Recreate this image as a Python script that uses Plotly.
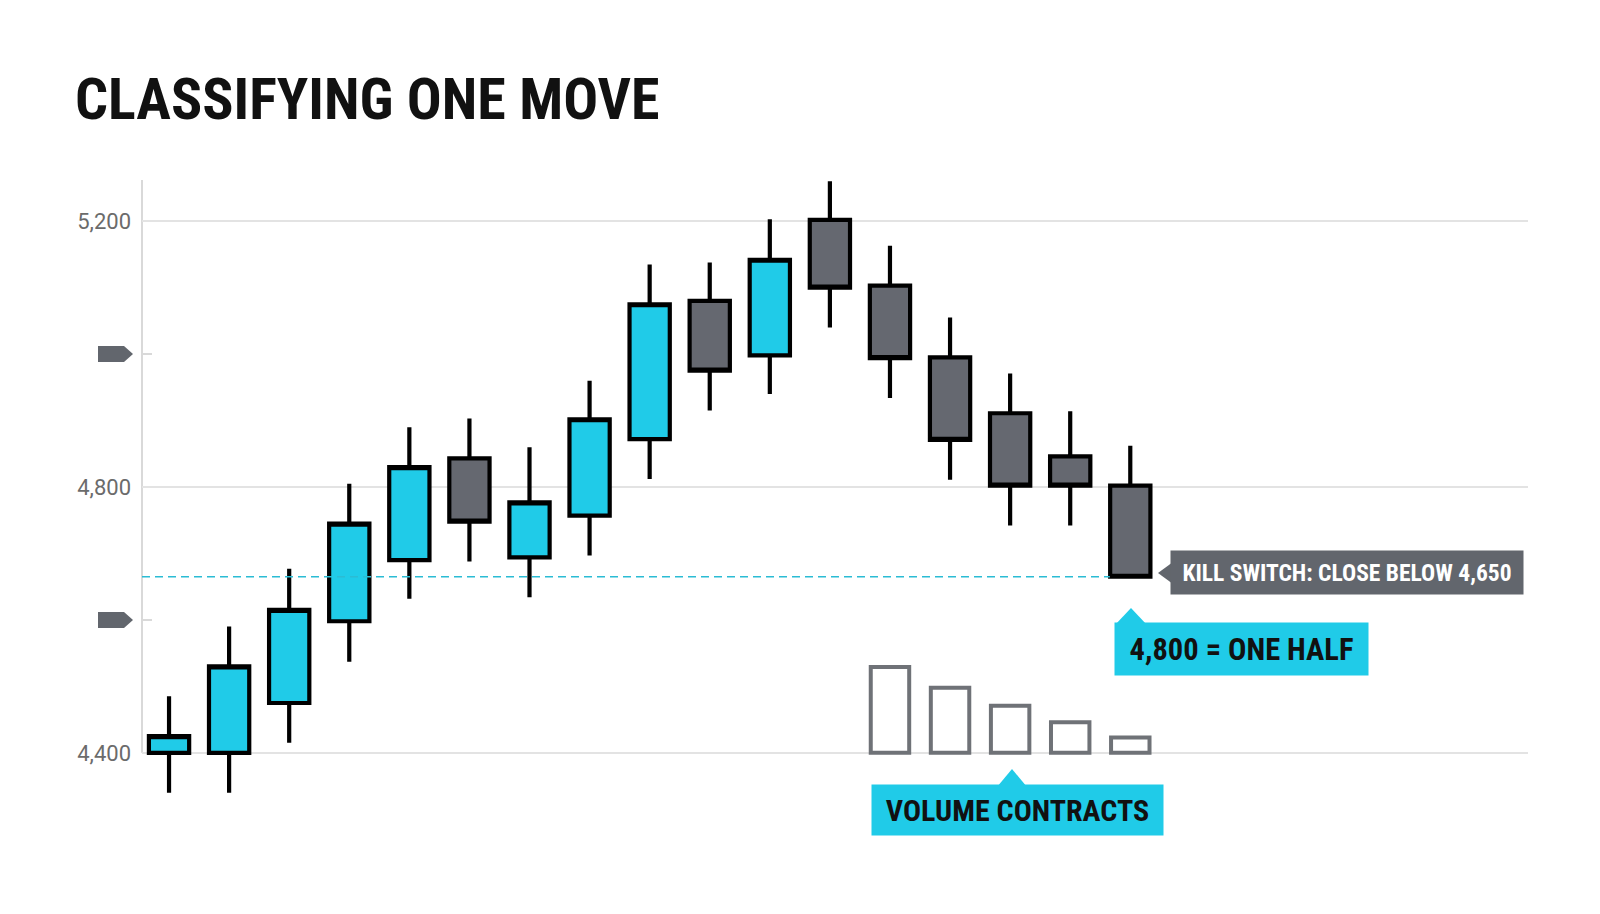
import plotly.graph_objects as go

# Candles (one per session)
SESSIONS = list(range(1, 18))
OPEN = [4400, 4400, 4475, 4598, 4690, 4843, 4694, 4757, 4872, 5080, 4998, 5202, 5103, 4995, 4911, 4846, 4802]
HIGH = [4485, 4590, 4677, 4805, 4890, 4903, 4860, 4960, 5135, 5138, 5203, 5260, 5163, 5055, 4971, 4914, 4862]
LOW = [4340, 4340, 4415, 4537, 4632, 4688, 4634, 4697, 4812, 4915, 4940, 5040, 4934, 4811, 4742, 4742, 4665]
CLOSE = [4425, 4530, 4615, 4745, 4830, 4748, 4777, 4902, 5075, 4975, 5142, 5100, 4994, 4871, 4802, 4802, 4665]

# Volume on the pullback sessions
VOL_SESSIONS = [13, 14, 15, 16, 17]
VOLUME = [12.9, 9.8, 7.1, 4.6, 2.3]

# Levels and labels
TICK_VALS = [4400, 4800, 5200]
TICK_TEXT = ["4,400", "4,800", "5,200"]
TAG_LEVELS = [4600, 5000]
KILL_LEVEL = 4665
TITLE = "CLASSIFYING ONE MOVE"
KILL_TEXT = "KILL SWITCH: CLOSE BELOW 4,650"
HALF_TEXT = "4,800 = ONE HALF"
VOL_TEXT = "VOLUME CONTRACTS"

CYAN = "#20cbe8"
GRAY = "#656870"
TAG_GRAY = "#62666d"
COND = "Roboto Condensed, Liberation Sans Narrow, DejaVu Sans Condensed, Roboto, sans-serif"

# page offset (body margin) and plot area in page pixels
OFF = 8
PLOT_L, PLOT_R, PLOT_T, PLOT_B = 142 - OFF, 1528 - OFF, 180 - OFF, 806 - OFF
Y_RANGE = [4320, 5262]
X_RANGE = [0.55, 23.62]
VOL_SCALE = 0.1  # volume units per price unit
Y2_RANGE = [(Y_RANGE[0] - 4400) * VOL_SCALE, (Y_RANGE[1] - 4400) * VOL_SCALE]


def px_x(p):
    return (p - OFF - PLOT_L) / (PLOT_R - PLOT_L)


def px_y(p):
    return (PLOT_B - (p - OFF)) / (PLOT_B - PLOT_T)


fig = go.Figure()

fig.add_trace(go.Bar(
    x=VOL_SESSIONS, y=VOLUME, yaxis="y2", width=0.64,
    marker=dict(color="rgba(255,255,255,0)", line=dict(color="#6f7277", width=4)),
    hoverinfo="skip",
))

fig.add_trace(go.Candlestick(
    x=SESSIONS, open=OPEN, high=HIGH, low=LOW, close=CLOSE,
    increasing=dict(fillcolor=CYAN, line=dict(color="black", width=4.2)),
    decreasing=dict(fillcolor=GRAY, line=dict(color="black", width=4.2)),
    whiskerwidth=0,
))

shapes = [
    # left axis line, stops at the 4,400 grid line
    dict(type="line", xref="paper", yref="y", x0=0, x1=0, y0=4400, y1=Y_RANGE[1],
         line=dict(color="#d9d9d9", width=2), layer="below"),
    # kill switch level
    dict(type="line", xref="x", yref="y", x0=X_RANGE[0], x1=SESSIONS[-1] - 0.34,
         y0=KILL_LEVEL, y1=KILL_LEVEL, line=dict(color="#2bbcd4", width=1.5, dash="8px,5px")),
]
for lvl in TAG_LEVELS:
    shapes.append(dict(type="path", xref="paper", yref="y", xsizemode="pixel", ysizemode="pixel",
                       xanchor=0, yanchor=lvl,
                       path="M -44,-8 L -18,-8 L -9,0 L -18,8 L -44,8 Z",
                       fillcolor=TAG_GRAY, line=dict(width=0)))
# callout pointers
shapes.append(dict(type="path", xref="paper", yref="paper", xsizemode="pixel", ysizemode="pixel",
                   xanchor=px_x(1172), yanchor=px_y(573), path="M 1,11 L -14,0 L 1,-11 Z",
                   fillcolor=TAG_GRAY, line=dict(width=0)))
shapes.append(dict(type="path", xref="paper", yref="paper", xsizemode="pixel", ysizemode="pixel",
                   xanchor=px_x(1115), yanchor=px_y(624), path="M 0,-1 L 16,16 L 32,-1 Z",
                   fillcolor=CYAN, line=dict(width=0)))
shapes.append(dict(type="path", xref="paper", yref="paper", xsizemode="pixel", ysizemode="pixel",
                   xanchor=px_x(997), yanchor=px_y(786), path="M 0,-1 L 15,17 L 30,-1 Z",
                   fillcolor=CYAN, line=dict(width=0)))

annotations = [
    dict(text="<b>" + KILL_TEXT + "</b>", xref="paper", yref="paper",
         x=px_x(1347), y=px_y(572.5), xanchor="center", yanchor="middle",
         width=352, height=43, borderpad=0, bgcolor=TAG_GRAY, showarrow=False,
         font=dict(family=COND, size=23.5, color="white")),
    dict(text="<b>" + HALF_TEXT + "</b>", xref="paper", yref="paper",
         x=px_x(1241.5), y=px_y(649), xanchor="center", yanchor="middle",
         width=253, height=52, borderpad=0, bgcolor=CYAN, showarrow=False,
         font=dict(family=COND, size=30.5, color="#111111")),
    dict(text="<b>" + VOL_TEXT + "</b>", xref="paper", yref="paper",
         x=px_x(1017.5), y=px_y(810), xanchor="center", yanchor="middle",
         width=291, height=50, borderpad=0, bgcolor=CYAN, showarrow=False,
         font=dict(family=COND, size=30, color="#111111")),
]

fig.update_layout(
    width=1600, height=914,
    margin=dict(l=PLOT_L, r=1600 - PLOT_R, t=PLOT_T, b=914 - PLOT_B),
    paper_bgcolor="white", plot_bgcolor="white",
    showlegend=False,
    boxgap=0.33, boxgroupgap=0,
    title=dict(text="<b>" + TITLE + "</b>", xref="container", yref="container",
               x=67 / 1600, y=1 - 91 / 914, xanchor="left", yanchor="middle",
               font=dict(family=COND, size=58, color="#111111")),
    xaxis=dict(range=X_RANGE, visible=False, rangeslider=dict(visible=False), fixedrange=True),
    yaxis=dict(range=Y_RANGE, tickvals=TICK_VALS, ticktext=TICK_TEXT, showline=False,
               showgrid=True, gridcolor="#e3e3e3", gridwidth=2, zeroline=False, ticks="",
               ticklabelstandoff=10,
               tickfont=dict(family="Roboto, sans-serif", size=22, color="#6b6b6b"),
               minor=dict(tickvals=TAG_LEVELS, ticks="inside", ticklen=10, tickwidth=1.5,
                          tickcolor="#d9d9d9", showgrid=False)),
    yaxis2=dict(range=Y2_RANGE, overlaying="y", visible=False),
    shapes=shapes,
    annotations=annotations,
)

fig.write_html("out.html")
